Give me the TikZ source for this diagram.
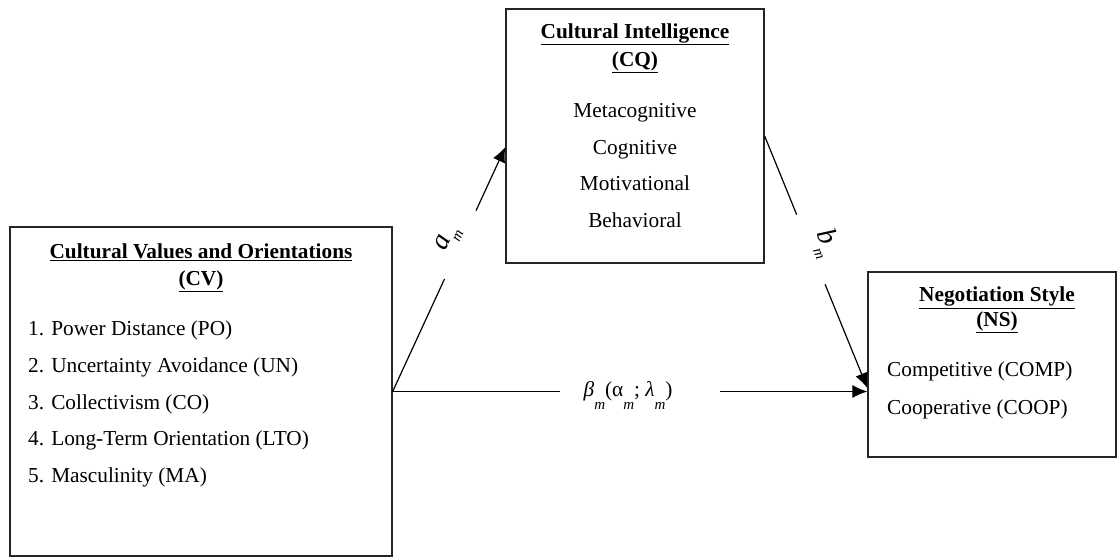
\documentclass[tikz,border=0pt]{standalone}
\usepackage{fontspec}
\setmainfont{Liberation Serif}
\usetikzlibrary{arrows.meta}
\newcommand{\subm}[1]{\raisebox{#1}{\fontsize{15}{15}\selectfont\itshape m}}
\begin{document}
\begin{tikzpicture}[x=1pt,y=-1pt,
  box/.style={draw=black!85, line width=1.3pt, inner sep=0pt},
  txt/.style={inner sep=0pt, font=\fontsize{21.3}{25}\selectfont},
  ttl/.style={inner sep=0pt, font=\fontsize{21.3}{25}\selectfont\bfseries, anchor=base},
  item/.style={txt, anchor=base west},
  citem/.style={txt, anchor=base},
  conn/.style={line width=1.2pt, -{Latex[length=15pt,width=13pt]}},
  gapbox/.style={fill=white, inner sep=0pt, draw=none},
  lbl/.style={inner sep=0pt, font=\fontsize{28}{30}\selectfont\itshape}
]
\useasboundingbox (0,0) rectangle (1117,558);
% boxes
\node[box, minimum width=382pt, minimum height=329pt] (cv) at (201,391.5) {};
\node[box, minimum width=258pt, minimum height=254pt] (cq) at (635,136) {};
\node[box, minimum width=248pt, minimum height=185pt] (ns) at (992,364.5) {};
% CV texts
\node[ttl] (cvt1) at (201,258.3) {\underline{Cultural Values and Orientations}};
\node[ttl] (cvt2) at (201,285) {\underline{(CV)}};
\node[item] (cv1) at (28,335.7) {1. Power Distance (PO)};
\node[item] (cv2) at (28,372.4) {2. Uncertainty Avoidance (UN)};
\node[item] (cv3) at (28,409.1) {3. Collectivism (CO)};
\node[item] (cv4) at (28,445.8) {4. Long-Term Orientation (LTO)};
\node[item] (cv5) at (28,482.5) {5. Masculinity (MA)};
% CQ texts
\node[ttl] (cqt1) at (635,38.3) {\underline{Cultural Intelligence}};
\node[ttl] (cqt2) at (635,66.7) {\underline{(CQ)}};
\node[citem] (cq1) at (635,117.3) {Metacognitive};
\node[citem] (cq2) at (635,154) {Cognitive};
\node[citem] (cq3) at (635,190.7) {Motivational};
\node[citem] (cq4) at (635,227.4) {Behavioral};
% NS texts
\node[ttl] (nst1) at (997,301.7) {\underline{Negotiation Style}};
\node[ttl] (nst2) at (997,326.7) {\underline{(NS)}};
\node[item] (ns1) at (887,376.5) {Competitive (COMP)};
\node[item] (ns2) at (887,414) {Cooperative (COOP)};
% connectors
\draw[conn] (cv.east) --
  node[gapbox, sloped, pos=0.6, minimum width=75pt, minimum height=8pt] (gapa) {}
  node[lbl, sloped, pos=0.6, above=1pt] (la) {a\subm{-9pt}}
  ([yshift=-11pt]cq.west);
\draw[conn] (cq.east) --
  node[gapbox, sloped, pos=0.45, minimum width=75pt, minimum height=8pt] (gapb) {}
  node[lbl, sloped, pos=0.45, above=1pt] (lb) {b\subm{-9pt}}
  ([yshift=-23.5pt]ns.west);
\draw[conn] (cv.east) --
  node[gapbox, pos=0.521, minimum width=160pt, minimum height=8pt] (gapc) {}
  node[txt, pos=0.496, anchor=base, yshift=-5pt] (lc) {{\itshape β}\subm{-13pt}(α\subm{-13pt}; {\itshape λ}\subm{-13pt})}
  (cv.east -| ns.west);
\end{tikzpicture}
\end{document}
